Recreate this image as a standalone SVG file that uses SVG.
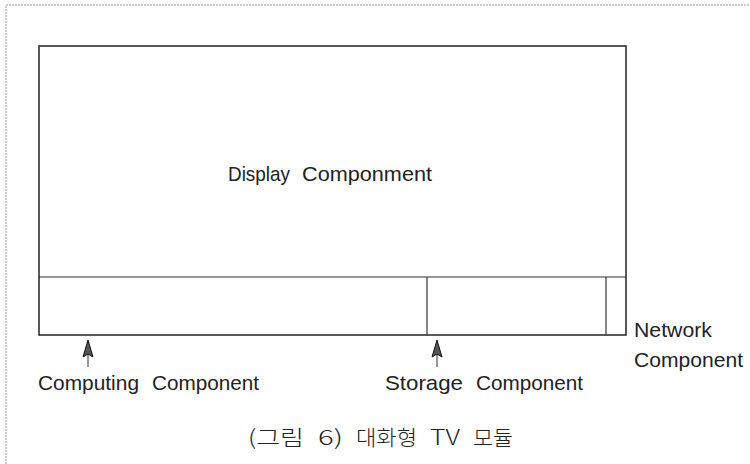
<svg xmlns="http://www.w3.org/2000/svg" width="750" height="464" viewBox="0 0 750 464">
<style>
.frame{fill:none;stroke:#9a9a9a;stroke-width:1;stroke-dasharray:2 1}
.box{fill:none;stroke:#222;stroke-width:1.5}
.ln{stroke:#333;stroke-width:1.2}
.t{font-family:"Liberation Sans","Noto Sans CJK KR",sans-serif;font-size:21px;fill:#222}
.k{font-family:"Noto Sans CJK KR",sans-serif;font-size:21px;font-weight:300;fill:#222}
.arrow{stroke:#333;stroke-width:1}
.head{fill:#555;stroke:#111;stroke-width:1}
</style>
<rect width="750" height="464" fill="#fff"/>
<path class="frame" d="M6,464 V5 H750"/>
<g id="display">
<rect class="box" x="39" y="46" width="587" height="289"/>
<line class="ln" x1="39" y1="277" x2="626" y2="277"/>
<text class="t" x="228" y="181" textLength="62" lengthAdjust="spacingAndGlyphs">Display</text>
<text class="t" x="302" y="181" textLength="130" lengthAdjust="spacingAndGlyphs">Componment</text>
</g>
<g id="computing">
<text class="t" x="38" y="390" textLength="101" lengthAdjust="spacingAndGlyphs">Computing</text>
<text class="t" x="152" y="390" textLength="107" lengthAdjust="spacingAndGlyphs">Component</text>
</g>
<g id="storage">
<line class="ln" x1="427" y1="277" x2="427" y2="335"/>
<text class="t" x="385" y="390" textLength="78" lengthAdjust="spacingAndGlyphs">Storage</text>
<text class="t" x="476" y="390" textLength="107" lengthAdjust="spacingAndGlyphs">Component</text>
</g>
<g id="network">
<line class="ln" x1="606" y1="277" x2="606" y2="335"/>
<text class="t" x="634" y="337" textLength="78" lengthAdjust="spacingAndGlyphs">Network</text>
<text class="t" x="634" y="367" textLength="109" lengthAdjust="spacingAndGlyphs">Component</text>
</g>
<g id="connectors">
<line class="arrow" x1="88" y1="350" x2="88" y2="367"/>
<path class="head" d="M88,340 L83,357 L88,354 L93,357 Z"/>
<line class="arrow" x1="437" y1="350" x2="437" y2="367"/>
<path class="head" d="M437,340 L432,357 L437,354 L442,357 Z"/>
</g>
<g id="caption">
<text class="k" x="248" y="445" textLength="56" lengthAdjust="spacingAndGlyphs">(그림</text>
<text class="k" x="318" y="445" textLength="25" lengthAdjust="spacingAndGlyphs">6)</text>
<text class="k" x="356" y="445" textLength="61" lengthAdjust="spacingAndGlyphs">대화형</text>
<text class="k" x="430" y="445" textLength="30" lengthAdjust="spacingAndGlyphs">TV</text>
<text class="k" x="473" y="445" textLength="40" lengthAdjust="spacingAndGlyphs">모듈</text>
</g>
</svg>
